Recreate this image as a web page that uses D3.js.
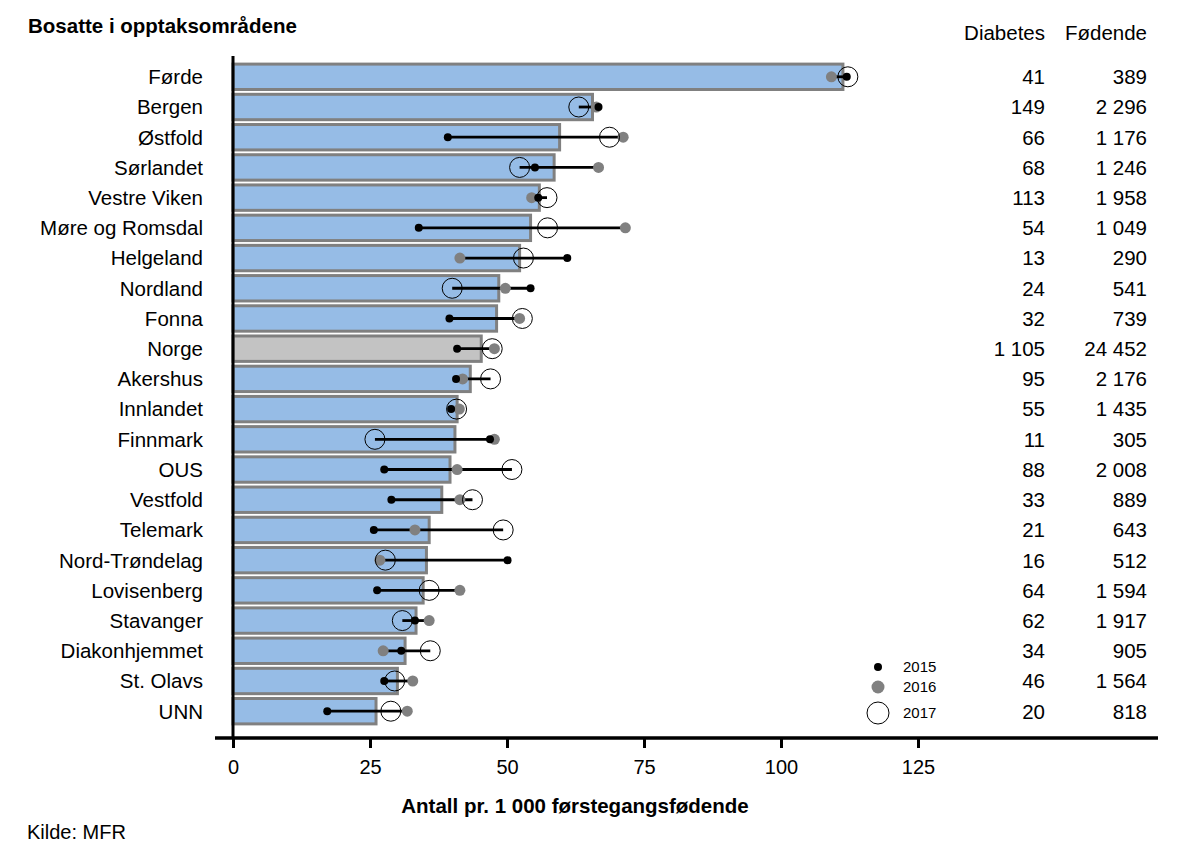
<!DOCTYPE html>
<html>
<head>
<meta charset="utf-8">
<script src="https://cdn.jsdelivr.net/npm/d3@7"></script>
<style>
  body { margin: 0; background: #fff; }
  svg text { font-family: "Liberation Sans", Arial, sans-serif; fill: #000; }
</style>
</head>
<body>
<div id="vis"></div>
<script>
(function() {
  // regions (sorted as in the figure)
  var regions = ['Førde', 'Bergen', 'Østfold', 'Sørlandet', 'Vestre Viken', 'Møre og Romsdal',
    'Helgeland', 'Nordland', 'Fonna', 'Norge', 'Akershus', 'Innlandet', 'Finnmark', 'OUS',
    'Vestfold', 'Telemark', 'Nord-Trøndelag', 'Lovisenberg', 'Stavanger', 'Diakonhjemmet',
    'St. Olavs', 'UNN'];
  // bar = pooled rate 2015-2017
  var pooled = [111.3, 65.6, 59.6, 58.6, 55.9, 54.3, 52.3, 48.5, 48.1, 45.3, 43.3, 40.9, 40.5,
    39.6, 38.1, 35.8, 35.3, 34.7, 33.4, 31.4, 30.0, 26.1];
  var y2015 = [112.0, 66.7, 39.2, 55.1, 55.7, 33.9, 61.0, 54.3, 39.5, 40.9, 40.7, 39.8, 46.9,
    27.6, 28.9, 25.7, 50.1, 26.3, 33.2, 30.7, 27.6, 17.2];
  var y2016 = [109.2, 66.3, 71.2, 66.7, 54.5, 71.6, 41.4, 49.7, 52.3, 47.7, 41.9, 41.3, 47.7,
    40.9, 41.4, 33.2, 26.8, 41.4, 35.8, 27.4, 32.8, 31.8];
  var y2017 = [112.2, 63.1, 68.7, 52.3, 57.3, 57.4, 53.0, 40.0, 52.8, 47.3, 47.0, 40.8, 25.9,
    50.9, 43.7, 49.3, 27.8, 35.8, 30.9, 36.0, 29.5, 28.8];
  var diabetes = ['41', '149', '66', '68', '113', '54', '13', '24', '32', '1 105', '95', '55',
    '11', '88', '33', '21', '16', '64', '62', '34', '46', '20'];
  var fodende = ['389', '2 296', '1 176', '1 246', '1 958', '1 049', '290', '541', '739',
    '24 452', '2 176', '1 435', '305', '2 008', '889', '643', '512', '1 594', '1 917', '905',
    '1 564', '818'];
  var xTicks = [0, 25, 50, 75, 100, 125];
  var years = ['2015', '2016', '2017'];

  var W = 1179, H = 848;
  var svg = d3.select('#vis').append('svg').attr('width', W).attr('height', H);

  var x = d3.scaleLinear().domain([0, 125]).range([233, 918]);
  var y = d3.scaleBand().domain(regions).range([62, 726]).paddingInner(0.06).paddingOuter(0.02);

  var rows = regions.map(function(r, i) {
    return { name: r, pooled: pooled[i], v: [y2015[i], y2016[i], y2017[i]],
      diab: diabetes[i], fod: fodende[i] };
  });

  // bars
  svg.append('g').selectAll('rect').data(rows).enter().append('rect')
    .attr('x', x(0))
    .attr('y', function(d) { return y(d.name) + 1.5; })
    .attr('width', function(d) { return x(d.pooled) - x(0); })
    .attr('height', y.bandwidth() - 3)
    .attr('fill', function(d) { return d.name === 'Norge' ? '#c3c3c3' : '#96bce6'; })
    .attr('stroke', '#808080')
    .attr('stroke-width', 3);

  var cy = function(d) { return y(d.name) + y.bandwidth() / 2; };

  // range lines
  svg.append('g').selectAll('line').data(rows).enter().append('line')
    .attr('x1', function(d) { return x(d3.min(d.v)); })
    .attr('x2', function(d) { return x(d3.max(d.v)); })
    .attr('y1', cy).attr('y2', cy)
    .attr('stroke', '#000').attr('stroke-width', 2.8);

  var dots = svg.append('g');
  dots.selectAll('.d16').data(rows).enter().append('circle')
    .attr('cx', function(d) { return x(d.v[1]); }).attr('cy', cy)
    .attr('r', 5.5).attr('fill', '#808080');
  dots.selectAll('.d15').data(rows).enter().append('circle')
    .attr('cx', function(d) { return x(d.v[0]); }).attr('cy', cy)
    .attr('r', 4).attr('fill', '#000');
  dots.selectAll('.d17').data(rows).enter().append('circle')
    .attr('cx', function(d) { return x(d.v[2]); }).attr('cy', cy)
    .attr('r', 10).attr('fill', 'none').attr('stroke', '#000').attr('stroke-width', 1);

  // category labels
  svg.append('g').selectAll('text').data(rows).enter().append('text')
    .attr('x', 203).attr('y', cy).attr('dy', '0.36em')
    .attr('text-anchor', 'end').attr('font-size', 20.5)
    .text(function(d) { return d.name; });

  // table columns
  var tab = svg.append('g');
  tab.append('text').attr('x', 1045).attr('y', 40).attr('text-anchor', 'end').attr('font-size', 20.5).text('Diabetes');
  tab.append('text').attr('x', 1147).attr('y', 40).attr('text-anchor', 'end').attr('font-size', 20.5).text('Fødende');
  tab.selectAll('.dia').data(rows).enter().append('text')
    .attr('x', 1045).attr('y', cy).attr('dy', '0.36em').attr('text-anchor', 'end')
    .attr('font-size', 20.5).text(function(d) { return d.diab; });
  tab.selectAll('.fod').data(rows).enter().append('text')
    .attr('x', 1147).attr('y', cy).attr('dy', '0.36em').attr('text-anchor', 'end')
    .attr('font-size', 20.5).text(function(d) { return d.fod; });

  // axes
  svg.append('line').attr('x1', x(0)).attr('x2', x(0)).attr('y1', 56).attr('y2', 739)
    .attr('stroke', '#000').attr('stroke-width', 3);
  var xAxis = d3.axisBottom(x).tickValues(xTicks).tickSize(10).tickPadding(12).tickFormat(d3.format('d'));
  var gx = svg.append('g').attr('transform', 'translate(0,738)').call(xAxis);
  gx.select('.domain').remove();
  gx.selectAll('.tick line').attr('stroke', '#000').attr('stroke-width', 3);
  gx.selectAll('.tick text').attr('font-size', 20).attr('font-family', '"Liberation Sans", Arial, sans-serif').attr('fill', '#000');
  svg.append('line').attr('x1', 215).attr('x2', 1158).attr('y1', 738).attr('y2', 738)
    .attr('stroke', '#000').attr('stroke-width', 3.5);

  // legend
  var leg = svg.append('g');
  var legY = [667, 687, 713];
  years.forEach(function(yr, i) {
    var c = leg.append('circle').attr('cx', 878).attr('cy', legY[i]);
    if (i === 0) c.attr('r', 4).attr('fill', '#000');
    else if (i === 1) c.attr('r', 6.5).attr('fill', '#808080');
    else c.attr('r', 11).attr('fill', 'none').attr('stroke', '#000').attr('stroke-width', 1);
    leg.append('text').attr('x', 903).attr('y', legY[i]).attr('dy', '0.36em')
      .attr('font-size', 15).text(yr);
  });

  // titles
  svg.append('text').attr('x', 28).attr('y', 33).attr('font-size', 20.5).attr('font-weight', 'bold')
    .text('Bosatte i opptaksområdene');
  svg.append('text').attr('x', 575).attr('y', 813).attr('text-anchor', 'middle')
    .attr('font-size', 20.5).attr('font-weight', 'bold').text('Antall pr. 1 000 førstegangsfødende');
  svg.append('text').attr('x', 27).attr('y', 839).attr('font-size', 20).text('Kilde: MFR');
})();
</script>
</body>
</html>
